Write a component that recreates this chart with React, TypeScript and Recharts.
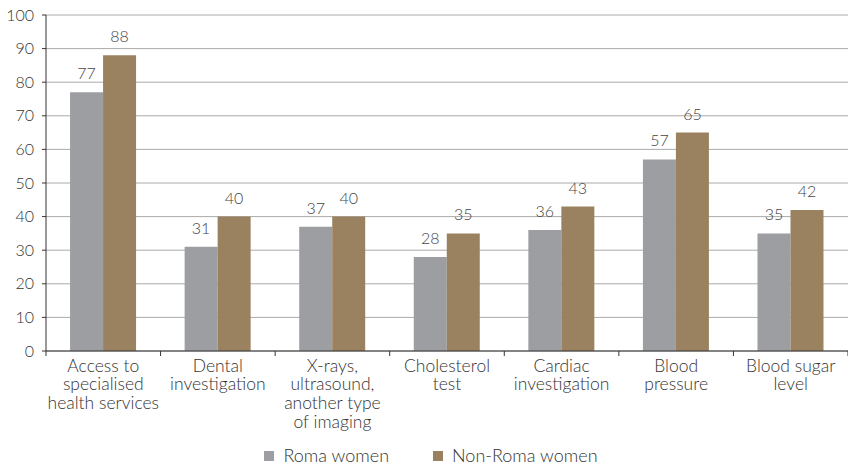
import { BarChart, Bar, XAxis, YAxis, CartesianGrid, Legend, LabelList } from 'recharts'

const categories = [
  'Access to\nspecialised\nhealth services',
  'Dental\ninvestigation',
  'X-rays,\nultrasound,\nanother type\nof imaging',
  'Cholesterol\ntest',
  'Cardiac\ninvestigation',
  'Blood\npressure',
  'Blood sugar\nlevel',
]
const romaWomen = [77, 31, 37, 28, 36, 57, 35]
const nonRomaWomen = [88, 40, 40, 35, 43, 65, 42]
const yTicks = [0, 10, 20, 30, 40, 50, 60, 70, 80, 90, 100]
const seriesNames = ['Roma women', 'Non-Roma women']
const seriesColors = ['#9d9ea2', '#9a8261']

const data = categories.map((name, i) => ({
  name,
  roma: romaWomen[i],
  nonRoma: nonRomaWomen[i],
}))

const FONT = 'Lato, "Open Sans", sans-serif'
const WIDTH = 848
const HEIGHT = 465
const LEFT = 46
const RIGHT = 0
const BAND = (WIDTH - LEFT - RIGHT) / categories.length

function CategoryTick(props: any) {
  const { x, y, payload, index } = props
  const lines = String(payload.value).split('\n')
  return (
    <g>
      <line x1={x - BAND / 2} x2={x - BAND / 2} y1={y - 8} y2={y - 3} stroke="#333" />
      {index === categories.length - 1 && (
        <line x1={x + BAND / 2} x2={x + BAND / 2} y1={y - 8} y2={y - 3} stroke="#333" />
      )}
      <text x={x} y={y} textAnchor="middle" fill="#333" fontSize={17.5} fontWeight={300} fontFamily={FONT}>
        {lines.map((l, i) => (
          <tspan key={i} x={x} dy={i === 0 ? 12.5 : 18.8}>
            {l}
          </tspan>
        ))}
      </text>
    </g>
  )
}

function LegendContent() {
  return (
    <div style={{ display: 'flex', justifyContent: 'center', fontFamily: FONT, paddingLeft: 14, paddingTop: 3 }}>
      {seriesNames.map((n, i) => (
        <div key={n} style={{ display: 'flex', alignItems: 'center', marginRight: i === 0 ? 44 : 0 }}>
          <span style={{ width: 10, height: 10, background: seriesColors[i], display: 'inline-block', marginRight: 9, marginTop: 2 }} />
          <span style={{ color: '#333', fontSize: 18, fontWeight: 300 }}>{n}</span>
        </div>
      ))}
    </div>
  )
}

export default function App() {
  return (
    <div style={{ position: 'absolute', left: 0, top: 0 }}>
      <BarChart
        width={WIDTH}
        height={HEIGHT}
        data={data}
        margin={{ top: 15, right: RIGHT, left: 0, bottom: 0 }}
        barCategoryGap="21%"
        barGap={0}
      >
        <CartesianGrid vertical={false} stroke="#aaaaaa" strokeWidth={1} />
        <YAxis
          domain={[0, 100]}
          ticks={yTicks}
          width={LEFT}
          axisLine={{ stroke: '#333' }}
          tickLine={{ stroke: '#333' }}
          tickSize={4}
          tick={{ fill: '#333', fontSize: 16, fontWeight: 300, fontFamily: FONT }}
          tickMargin={8}
          interval={0}
        />
        <XAxis
          dataKey="name"
          interval={0}
          height={90}
          axisLine={{ stroke: '#333' }}
          tickLine={false}
          tick={<CategoryTick />}
        />
        <Legend verticalAlign="bottom" height={24} content={<LegendContent />} />
        <Bar dataKey="roma" name="Roma women" fill={seriesColors[0]} isAnimationActive={false}>
          <LabelList dataKey="roma" position="top" offset={13} fill="#444" fontSize={16} fontWeight={300} fontFamily={FONT} />
        </Bar>
        <Bar dataKey="nonRoma" name="Non-Roma women" fill={seriesColors[1]} isAnimationActive={false}>
          <LabelList dataKey="nonRoma" position="top" offset={13} fill="#444" fontSize={16} fontWeight={300} fontFamily={FONT} />
        </Bar>
      </BarChart>
    </div>
  )
}
